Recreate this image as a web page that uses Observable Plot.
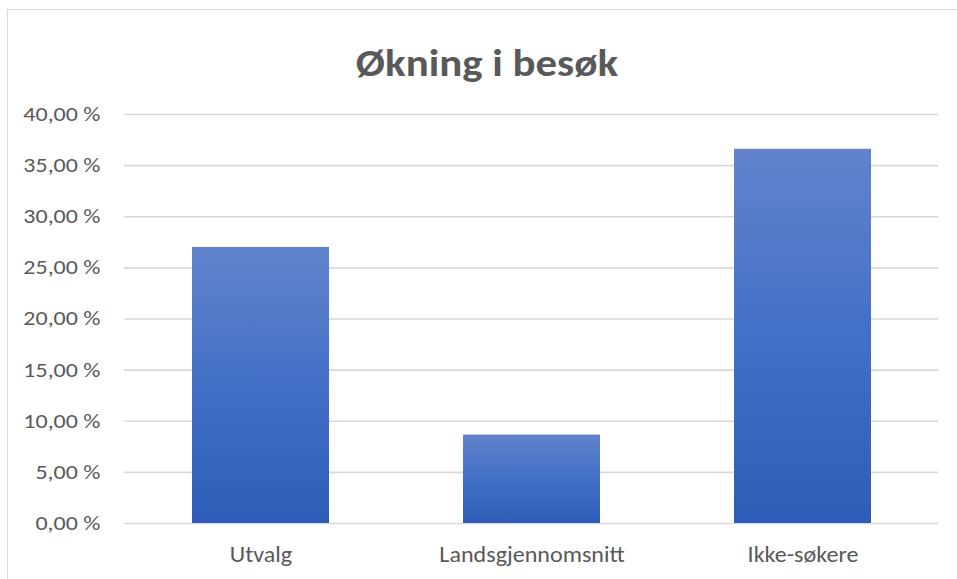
<!DOCTYPE html>
<html>
<head>
<meta charset="utf-8">
<script src="https://cdn.jsdelivr.net/npm/d3@7"></script>
<script src="https://cdn.jsdelivr.net/npm/@observablehq/plot@0.6"></script>
<style>
  html, body { margin: 0; padding: 0; background: #fff; }
  #wrap { position: relative; width: 957px; height: 579px; overflow: hidden; background: #fff; }
  #frame { position: absolute; left: 7px; top: 9px; width: 980px; height: 600px; border: 1px solid #d9d9d9; box-sizing: border-box; }
  #title { position: absolute; left: 0; top: 42.5px; width: 974px; text-align: center; font-family: Calibri, Carlito, Lato, sans-serif; font-weight: bold; font-size: 39px; line-height: 1; color: #595959; transform: scaleX(1.1); transform-origin: 487px 50%; }
  #chart { position: absolute; left: 0; top: 0; }
</style>
</head>
<body>
<div id="wrap">
  <div id="frame"></div>
  <div id="title">Økning i besøk</div>
  <div id="chart"></div>
</div>
<script>
const categories = ["Utvalg", "Landsgjennomsnitt", "Ikke-søkere"];
const values = [27.0, 8.65, 36.6];
const yTicks = [0, 5, 10, 15, 20, 25, 30, 35, 40];

const data = categories.map((c, i) => ({category: c, value: values[i]}));
const fmt = d => d.toFixed(2).replace(".", ",") + "\u00a0%";

const plot = Plot.plot({
  width: 957,
  height: 579,
  marginTop: 114,
  marginBottom: 56,
  marginLeft: 124,
  marginRight: 19,
  style: {fontFamily: "Calibri, Carlito, Lato, sans-serif", fontSize: "20px", color: "#595959", background: "transparent", overflow: "visible"},
  x: {domain: categories, paddingInner: 0.495, paddingOuter: 0.2475, label: null},
  y: {domain: [0, 40], label: null},
  marks: [
    Plot.gridY(yTicks, {stroke: "#d9d9d9", strokeOpacity: 1, strokeWidth: 1.6}),
    Plot.barY(data, {x: "category", y: "value", fill: "url(#barGrad)", style: "filter: drop-shadow(1.5px 1px 2px rgba(0,0,0,0.35))"}),
    Plot.axisY(yTicks, {tickSize: 0, tickPadding: 24, tickFormat: fmt, fill: "#595959", fontSize: 20}),
    Plot.axisX({tickSize: 0, tickPadding: 23.5, fill: "#595959", fontSize: 21.5})
  ]
});

const svg = d3.select(plot);
const defs = svg.insert("defs", ":first-child");
const g = defs.append("linearGradient").attr("id", "barGrad").attr("x1", 0).attr("y1", 0).attr("x2", 0).attr("y2", 1);
g.append("stop").attr("offset", "0%").attr("stop-color", "#6283cc");
g.append("stop").attr("offset", "50%").attr("stop-color", "#4270c6");
g.append("stop").attr("offset", "100%").attr("stop-color", "#2e5db7");

// widen glyphs horizontally to match the reference's rendering
svg.selectAll('g[aria-label="y-axis tick label"] text').each(function() {
  const t = d3.select(this);
  t.attr("transform", (t.attr("transform") || "") + " scale(1.2,1)");
});
svg.selectAll('g[aria-label="x-axis tick label"] text').each(function() {
  const t = d3.select(this);
  t.attr("transform", (t.attr("transform") || "") + " scale(1.12,1)");
});

document.getElementById("chart").appendChild(plot);
</script>
</body>
</html>
